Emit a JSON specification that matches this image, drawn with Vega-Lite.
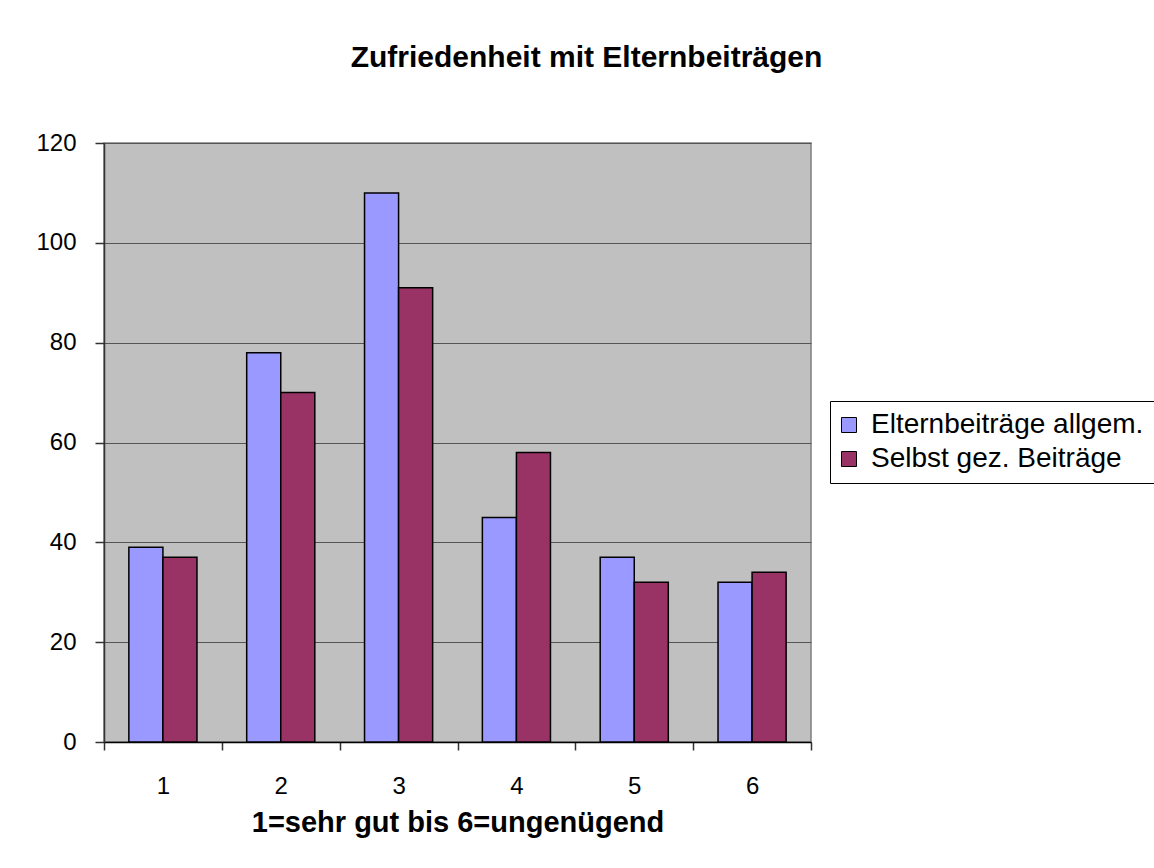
{
  "$schema": "https://vega.github.io/schema/vega-lite/v6.json",
  "width": 707,
  "height": 599,
  "autosize": {"type": "none"},
  "padding": {"left": 104, "top": 143, "right": 343, "bottom": 126},
  "background": "white",
  "title": {
    "text": "Zufriedenheit mit Elternbeiträgen",
    "font": "Liberation Sans",
    "fontSize": 30,
    "fontWeight": "bold",
    "color": "black",
    "anchor": "middle",
    "baseline": "alphabetic",
    "dx": 129,
    "offset": 34
  },
  "data": {
    "values": [
      {"note": "1", "serie": "Elternbeiträge allgem.", "wert": 39},
      {"note": "1", "serie": "Selbst gez. Beiträge", "wert": 37},
      {"note": "2", "serie": "Elternbeiträge allgem.", "wert": 78},
      {"note": "2", "serie": "Selbst gez. Beiträge", "wert": 70},
      {"note": "3", "serie": "Elternbeiträge allgem.", "wert": 110},
      {"note": "3", "serie": "Selbst gez. Beiträge", "wert": 91},
      {"note": "4", "serie": "Elternbeiträge allgem.", "wert": 45},
      {"note": "4", "serie": "Selbst gez. Beiträge", "wert": 58},
      {"note": "5", "serie": "Elternbeiträge allgem.", "wert": 37},
      {"note": "5", "serie": "Selbst gez. Beiträge", "wert": 32},
      {"note": "6", "serie": "Elternbeiträge allgem.", "wert": 32},
      {"note": "6", "serie": "Selbst gez. Beiträge", "wert": 34}
    ]
  },
  "mark": {"type": "bar", "stroke": "black", "strokeWidth": 1.5},
  "encoding": {
    "x": {
      "field": "note",
      "type": "nominal",
      "scale": {"paddingInner": 0, "paddingOuter": 0},
      "axis": {
        "title": "1=sehr gut bis 6=ungenügend",
        "titleFont": "Liberation Sans",
        "titleFontSize": 29,
        "titleFontWeight": "bold",
        "titleColor": "black",
        "titlePadding": 10,
        "labelAngle": 0,
        "labelFont": "Liberation Sans",
        "labelFontSize": 24,
        "labelColor": "black",
        "labelPadding": 24,
        "tickBand": "extent",
        "tickColor": "#333333",
        "tickSize": 8,
        "tickWidth": 1.5,
        "domainColor": "black",
        "domainWidth": 1.5,
        "grid": false
      }
    },
    "xOffset": {
      "field": "serie",
      "type": "nominal",
      "scale": {"paddingInner": 0, "paddingOuter": 0.73}
    },
    "y": {
      "field": "wert",
      "type": "quantitative",
      "scale": {"domain": [0, 120], "nice": false},
      "axis": {
        "title": null,
        "values": [0, 20, 40, 60, 80, 100, 120],
        "labelFont": "Liberation Sans",
        "labelFontSize": 24,
        "labelColor": "black",
        "labelPadding": 19,
        "tickColor": "#333333",
        "tickSize": 9,
        "tickWidth": 1.5,
        "domainColor": "#333333",
        "domainWidth": 1.5,
        "grid": true,
        "gridColor": "#555555",
        "gridWidth": 1.2,
        "gridOpacity": 1
      }
    },
    "color": {
      "field": "serie",
      "type": "nominal",
      "scale": {"domain": ["Elternbeiträge allgem.", "Selbst gez. Beiträge"], "range": ["#9999FF", "#993366"]},
      "legend": {
        "title": null,
        "orient": "none",
        "legendX": 726,
        "legendY": 258,
        "symbolType": "square",
        "symbolSize": 225,
        "symbolStrokeColor": "black",
        "symbolStrokeWidth": 1,
        "symbolOpacity": 1,
        "symbolOffset": -5,
        "labelFont": "Liberation Sans",
        "labelFontSize": 28,
        "labelColor": "black",
        "labelLimit": 500,
        "labelOffset": 8,
        "rowPadding": 6,
        "padding": 10,
        "strokeColor": "black",
        "fillColor": "white"
      }
    }
  },
  "config": {
    "view": {"fill": "#C0C0C0", "stroke": "#808080", "strokeWidth": 1.5}
  }
}
